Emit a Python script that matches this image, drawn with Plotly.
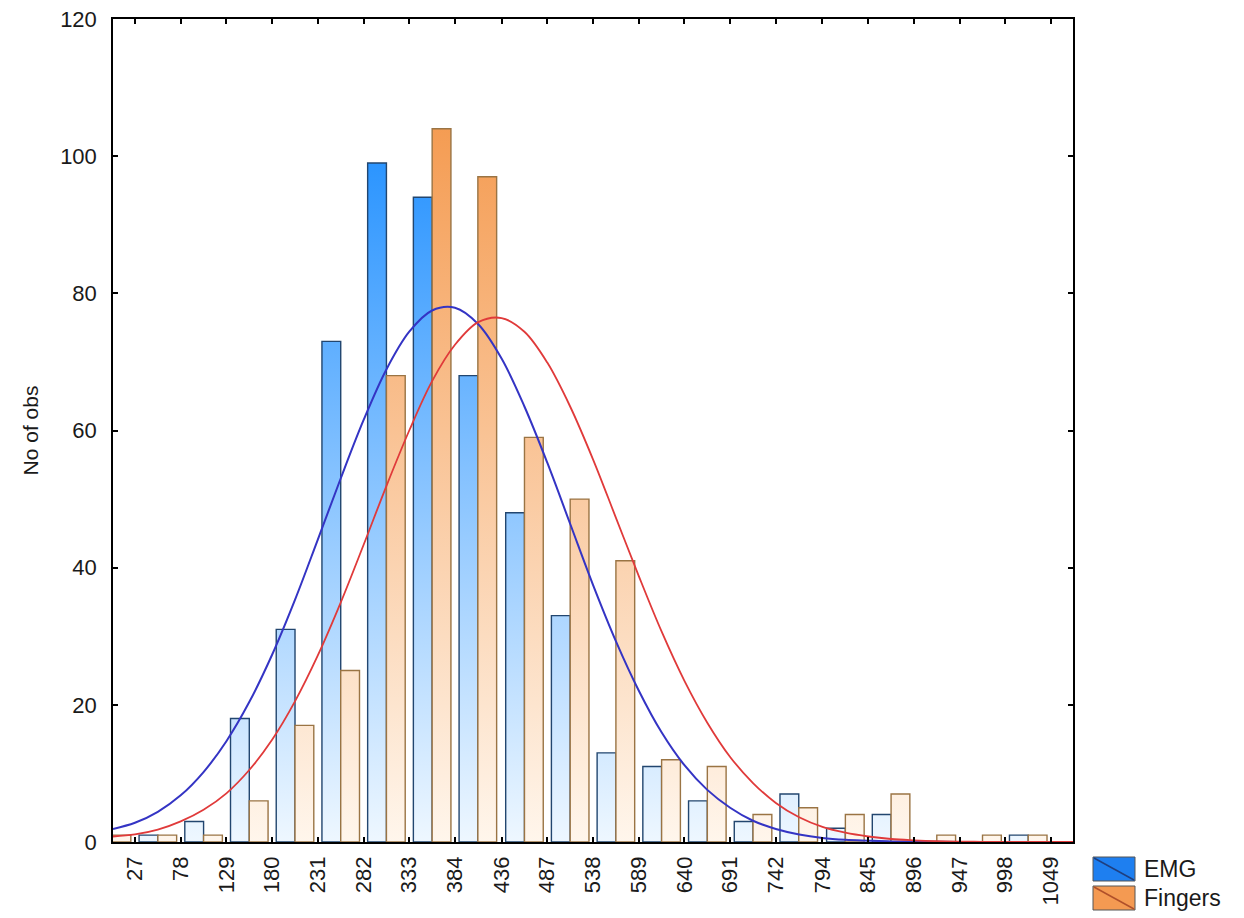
import plotly.graph_objects as go

# ---------------- data ----------------
tick_labels = [27, 78, 129, 180, 231, 282, 333, 384, 436, 487, 538,
               589, 640, 691, 742, 794, 845, 896, 947, 998, 1049]
# counts per bin: first bin is the one below 27, then bins between consecutive ticks
emg_counts = [0, 1, 3, 18, 31, 73, 99, 94, 68, 48, 33, 13, 11, 6, 3, 7, 2, 4, 0, 0, 1]
fingers_counts = [1, 1, 1, 6, 17, 25, 68, 104, 97, 59, 50, 41, 12, 11, 4, 5, 4, 7, 1, 1, 1]

# fitted-curve values (at axis ends, tick marks and bin middles)
curve_x = [2.5, 27, 52.5, 78, 103.5, 129, 154.5, 180, 205.5, 231, 256.5, 282, 307.5,
           333, 358.5, 384, 410, 436, 461.5, 487, 512.5, 538, 563.5, 589, 614.5,
           640, 665.5, 691, 716.5, 742, 768, 794, 819.5, 845, 870.5, 896, 921.5,
           947, 972.5, 998, 1023.5, 1049, 1073.5]
emg_curve = [1.9, 2.8, 4.4, 6.8, 10.2, 14.7, 20.4, 27.3, 35.3, 44.1, 53.0, 61.5, 68.9,
             74.4, 77.5, 77.9, 75.5, 70.5, 63.5, 55.3, 46.4, 37.5, 29.3, 22.1, 16.0,
             11.2, 7.6, 5.0, 3.1, 1.9, 1.1, 0.6, 0.33, 0.2, 0.09, 0.05, 0.02,
             0.0, 0.0, 0.0, 0.0, 0.0, 0.0]
fingers_curve = [0.8, 1.1, 1.8, 3.0, 4.7, 7.1, 10.5, 14.9, 20.5, 27.2, 34.9, 43.3, 51.9,
                 60.0, 67.2, 72.5, 75.8, 76.4, 74.4, 69.9, 63.5, 55.8, 47.3, 38.8, 30.7,
                 23.5, 17.4, 12.4, 8.6, 5.7, 3.6, 2.2, 1.35, 0.8, 0.44, 0.25, 0.12,
                 0.06, 0.03, 0.0, 0.0, 0.0, 0.0]

series_names = ["EMG", "Fingers"]

# ---------------- geometry from data ----------------
bin_w = (tick_labels[-1] - tick_labels[0]) / (len(tick_labels) - 1)
lower_edges = [tick_labels[0] - bin_w] + tick_labels[:-1]
centers = [lo + bin_w / 2 for lo in lower_edges]
bar_frac = 0.41  # width of each bar as fraction of bin


def bar_polys(counts, side):
    xs, ys = [], []
    for c, n in zip(centers, counts):
        if n <= 0:
            continue
        if side < 0:
            x0, x1 = c - bar_frac * bin_w, c
        else:
            x0, x1 = c, c + bar_frac * bin_w
        xs += [x0, x0, x1, x1, x0, None]
        ys += [0, n, n, 0, 0, None]
    return xs, ys


fig = go.Figure()

ex, ey = bar_polys(emg_counts, -1)
fig.add_trace(go.Scatter(
    x=ex, y=ey, mode="lines", fill="toself", name="EMG",
    line=dict(color="#22466F", width=1.4),
    fillgradient=dict(type="vertical", start=0, stop=110,
                      colorscale=[[0, "#EEF7FF"], [1, "#168AFF"]]),
    showlegend=False, hoverinfo="skip"))

fx, fy = bar_polys(fingers_counts, 1)
fig.add_trace(go.Scatter(
    x=fx, y=fy, mode="lines", fill="toself", name="Fingers",
    line=dict(color="#9A7444", width=1.4),
    fillgradient=dict(type="vertical", start=0, stop=110,
                      colorscale=[[0, "#FFF6EC"], [1, "#F4974A"]]),
    showlegend=False, hoverinfo="skip"))

fig.add_trace(go.Scatter(x=curve_x, y=emg_curve, mode="lines",
                         line=dict(color="#3434C4", width=2, shape="spline"),
                         showlegend=False))
fig.add_trace(go.Scatter(x=curve_x, y=fingers_curve, mode="lines",
                         line=dict(color="#E03A3A", width=1.8, shape="spline"),
                         showlegend=False))

FONT = "Liberation Sans, Arial, sans-serif"

fig.update_layout(
    width=1244, height=918,
    margin=dict(l=113, r=171, t=19, b=76, autoexpand=False),
    paper_bgcolor="white", plot_bgcolor="white",
    font=dict(family=FONT, size=22, color="#1a1a1a"),
    showlegend=False,
)
fig.update_xaxes(
    range=[2.5, 1073.5], tickmode="array", tickvals=tick_labels,
    ticktext=[str(t) for t in tick_labels], tickangle=-90,
    ticks="inside", ticklen=5, tickcolor="black", tickwidth=1.5,
    showline=True, linecolor="black", linewidth=1.5, mirror="allticks",
    showgrid=False, zeroline=False, automargin=False,
    ticklabelstandoff=4,
    tickfont=dict(size=22))
fig.update_yaxes(
    range=[0, 120], tickvals=[0, 20, 40, 60, 80, 100, 120],
    ticks="inside", ticklen=5, tickcolor="black", tickwidth=1.5,
    showline=True, linecolor="black", linewidth=1.5, mirror="allticks",
    showgrid=False, zeroline=False, automargin=False,
    ticklabelstandoff=10,
    title=dict(text="No of obs", font=dict(size=21), standoff=16),
    tickfont=dict(size=22))

# ---- legend drawn manually (Statistica style swatches) ----
L, R_, T, B = 113, 1073, 19, 842
pw, ph = R_ - L, B - T


def px(xp):
    return (xp - L) / pw


def py(yp):
    return (B - yp) / ph


legend_items = [("EMG", "#1E7FF0", "#1F3F80", 857, 881),
                ("Fingers", "#F49A52", "#B0502A", 886, 910)]
for name, fc, lc, y0, y1 in legend_items:
    fig.add_shape(type="rect", xref="paper", yref="paper",
                  x0=px(1093), x1=px(1135), y0=py(y0), y1=py(y1),
                  fillcolor=fc, line=dict(color="#555555", width=1))
    fig.add_shape(type="line", xref="paper", yref="paper",
                  x0=px(1094), x1=px(1134), y0=py(y0 + 1), y1=py(y1 - 1),
                  line=dict(color=lc, width=1.5))
    fig.add_annotation(x=px(1142), y=py((y0 + y1) / 2), xref="paper", yref="paper",
                       text=name, showarrow=False, xanchor="left", yanchor="middle",
                       font=dict(size=23, color="#1a1a1a"))

fig.write_html("out.html")
